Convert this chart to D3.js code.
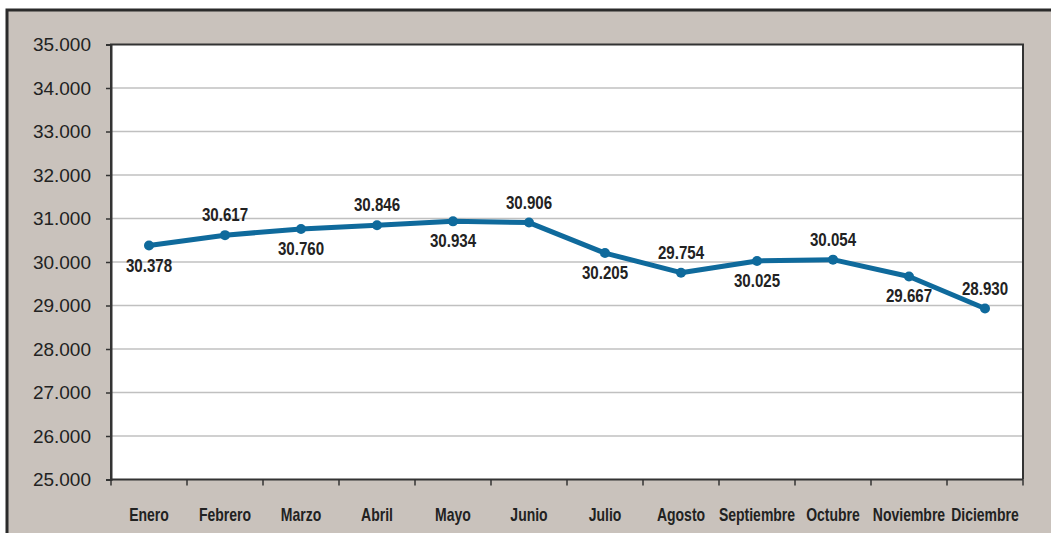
<!DOCTYPE html>
<html>
<head>
<meta charset="utf-8">
<script src="https://cdn.jsdelivr.net/npm/d3@7"></script>
<style>
  body { margin: 0; background: #fff; }
  svg { display: block; }
</style>
</head>
<body>
<svg width="1051" height="533"></svg>
<script>
// monthly values
let months = ["Enero", "Febrero", "Marzo", "Abril", "Mayo", "Junio", "Julio",
  "Agosto", "Septiembre", "Octubre", "Noviembre", "Diciembre"];
let values = [30378, 30617, 30760, 30846, 30934, 30906, 30205, 29754, 30025, 30054, 29667, 28930];
let yTicks = [25000, 26000, 27000, 28000, 29000, 30000, 31000, 32000, 33000, 34000, 35000];

let svg = d3.select("svg");
let width = +svg.attr("width");
let height = +svg.attr("height");

let plot = { left: 111, top: 44.5, right: 1023, bottom: 479.5 };
let narrow = 0.8; // squeeze bold labels like a condensed face

// frame
svg.append("rect")
  .attr("x", 7).attr("y", 10)
  .attr("width", width).attr("height", height)
  .attr("fill", "#c9c2bc")
  .attr("stroke", "#2b2b2b")
  .attr("stroke-width", 3);

let x = d3.scaleBand()
  .domain(months)
  .range([plot.left, plot.right]);
let y = d3.scaleLinear()
  .domain([25000, 35000])
  .range([plot.bottom, plot.top]);

let fmt = d3.format(",.0f");
let dotFmt = v => fmt(v).replace(/,/g, ".");
let cx = d => x(d) + x.bandwidth() / 2;

svg.append("rect")
  .attr("x", plot.left).attr("y", plot.top)
  .attr("width", plot.right - plot.left)
  .attr("height", plot.bottom - plot.top)
  .attr("fill", "#fff");

// gridlines
svg.append("g")
  .selectAll("line")
  .data(yTicks.slice(1, -1))
  .enter().append("line")
    .attr("x1", plot.left).attr("x2", plot.right)
    .attr("y1", d => y(d)).attr("y2", d => y(d))
    .attr("stroke", "#c0c0c0")
    .attr("stroke-width", 1.5);

// plot border
svg.append("path")
  .attr("d", `M${plot.left},${plot.bottom}V${plot.top}H${plot.right}V${plot.bottom}`)
  .attr("fill", "none")
  .attr("stroke", "#333")
  .attr("stroke-width", 2);

// y axis
let yAxis = svg.append("g")
  .attr("transform", `translate(${plot.left},0)`)
  .call(d3.axisLeft(y).tickValues(yTicks).tickSize(5).tickPadding(15).tickFormat(dotFmt));
yAxis.select(".domain").attr("stroke", "#333").attr("stroke-width", 2);
yAxis.selectAll(".tick line").attr("stroke", "#333").attr("stroke-width", 1.5);
yAxis.selectAll("text")
  .attr("fill", "#222")
  .style("font-family", "'Liberation Sans', Arial, sans-serif")
  .style("font-size", "19px");

// x axis: ticks at category boundaries
let bounds = months.map(m => x(m)).concat([plot.right]);
let xAxis = svg.append("g");
xAxis.append("line")
  .attr("x1", plot.left).attr("x2", plot.right)
  .attr("y1", plot.bottom).attr("y2", plot.bottom)
  .attr("stroke", "#333").attr("stroke-width", 2);
xAxis.selectAll(".tk")
  .data(bounds)
  .enter().append("line")
    .attr("class", "tk")
    .attr("x1", d => d).attr("x2", d => d)
    .attr("y1", plot.bottom).attr("y2", plot.bottom + 6)
    .attr("stroke", "#333").attr("stroke-width", 1.5);
xAxis.selectAll("text")
  .data(months)
  .enter().append("text")
    .attr("transform", d => `translate(${cx(d)},521) scale(${narrow},1)`)
    .attr("text-anchor", "middle")
    .attr("fill", "#222")
    .style("font-family", "'Liberation Sans', Arial, sans-serif")
    .style("font-weight", "bold")
    .style("font-size", "17.5px")
    .text(d => d);

// line
let pts = months.map((m, i) => ({ m: m, v: values[i], i: i }));
let line = d3.line()
  .x(d => cx(d.m))
  .y(d => y(d.v));

svg.append("path")
  .datum(pts)
  .attr("d", line)
  .attr("fill", "none")
  .attr("stroke", "#0f6a9c")
  .attr("stroke-width", 5)
  .attr("stroke-linejoin", "round");

svg.append("g")
  .selectAll("circle")
  .data(pts)
  .enter().append("circle")
    .attr("cx", d => cx(d.m))
    .attr("cy", d => y(d.v))
    .attr("r", 5)
    .attr("fill", "#0f6a9c");

// labels alternate below / above
svg.append("g")
  .selectAll("text")
  .data(pts)
  .enter().append("text")
    .attr("transform", d => `translate(${cx(d.m)},${y(d.v) + (d.i % 2 === 0 ? 26 : -14)}) scale(0.84,1)`)
    .attr("text-anchor", "middle")
    .attr("fill", "#222")
    .style("font-family", "'Liberation Sans', Arial, sans-serif")
    .style("font-weight", "bold")
    .style("font-size", "18px")
    .text(d => dotFmt(d.v));
</script>
</body>
</html>
